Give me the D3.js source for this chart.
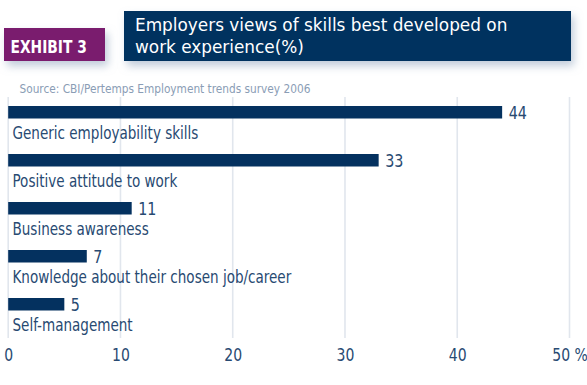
<!DOCTYPE html>
<html>
<head>
<meta charset="utf-8">
<script src="https://cdn.jsdelivr.net/npm/d3@7/dist/d3.min.js"></script>
<style>
  html, body { margin: 0; padding: 0; background: #ffffff; }
  svg { display: block; }
  text { font-family: "DejaVu Sans Condensed", "DejaVu Sans", sans-serif; }
</style>
</head>
<body>
<div id="chart"></div>
<script>
// Survey data: share of employers naming each skill (%)
const categories = [
  "Generic employability skills",
  "Positive attitude to work",
  "Business awareness",
  "Knowledge about their chosen job/career",
  "Self-management"
];
const values = [44, 33, 11, 7, 5];
const tickValues = [0, 10, 20, 30, 40, 50];
const tickLabels = ["0", "10", "20", "30", "40", "50 %"];

const exhibitLabel = "EXHIBIT 3";
const titleLines = ["Employers views of skills best developed on", "work experience(%)"];
const sourceText = "Source: CBI/Pertemps Employment trends survey 2006";

const W = 587, H = 385;
const navy = "#04315f";
const purple = "#7a1f6e";
const textBlue = "#284a72";
const gridColor = "#e1e6ed";

// place a text at (x, y) and squeeze it horizontally to a narrow face
function placeNarrow(sel, xf, yf, sx) {
  sel.attr("x", 0).attr("y", 0)
    .attr("transform", (d, i) => `translate(${xf(d, i)},${yf(d, i)}) scale(${sx},1)`);
}

const svg = d3.select("#chart").append("svg")
  .attr("width", W).attr("height", H);

// soft shadow under the header boxes
const defs = svg.append("defs");
const f = defs.append("filter").attr("id", "shadow")
  .attr("x", "-10%").attr("y", "-30%").attr("width", "130%").attr("height", "180%");
f.append("feDropShadow").attr("dx", 3).attr("dy", 5).attr("stdDeviation", 4)
  .attr("flood-color", "#8fa3bd").attr("flood-opacity", 0.55);

// header: exhibit tag
svg.append("rect").attr("x", 4).attr("y", 28).attr("width", 101).attr("height", 33)
  .attr("fill", purple).attr("filter", "url(#shadow)");
svg.append("text").datum(exhibitLabel)
  .attr("fill", "#ffffff").attr("font-size", 18.3).attr("font-weight", "bold")
  .text(d => d)
  .call(placeNarrow, () => 10.5, () => 52.5, 0.84);

// header: title box with two-line title
svg.append("rect").attr("x", 124).attr("y", 11).attr("width", 447).attr("height", 50)
  .attr("fill", navy).attr("filter", "url(#shadow)");
svg.append("g").selectAll("text").data(titleLines).join("text")
  .attr("fill", "#ffffff").attr("font-size", 18.5)
  .text(d => d)
  .call(placeNarrow, () => 135, (d, i) => 31.4 + i * 21.4, 1.015);

// source line
svg.append("text").datum(sourceText)
  .attr("fill", "#8a9db5").attr("font-size", 13)
  .text(d => d)
  .call(placeNarrow, () => 19.5, () => 92.6, 0.905);

// scales
const x = d3.scaleLinear().domain([0, 50]).range([8.2, 569.5]);
const y = d3.scalePoint().domain(categories).range([106, 298]);
const barH = 12.5;

// vertical grid lines
svg.append("g").selectAll("line").data(tickValues).join("line")
  .attr("x1", d => x(d)).attr("x2", d => x(d))
  .attr("y1", 97).attr("y2", 338)
  .attr("stroke", gridColor).attr("stroke-width", 1.6);

// bars
const rows = categories.map((c, i) => ({ cat: c, val: values[i] }));
svg.append("g").selectAll("rect").data(rows).join("rect")
  .attr("x", x(0)).attr("y", d => y(d.cat))
  .attr("width", d => x(d.val) - x(0)).attr("height", barH)
  .attr("fill", navy);

// value labels at bar ends
svg.append("g").selectAll("text").data(rows).join("text")
  .attr("fill", textBlue).attr("font-size", 17.3)
  .text(d => d.val)
  .call(placeNarrow, d => x(d.val) + 6.5, d => y(d.cat) + barH, 0.92);

// category labels beneath bars
svg.append("g").selectAll("text").data(rows).join("text")
  .attr("fill", textBlue).attr("font-size", 17.3)
  .text(d => d.cat)
  .call(placeNarrow, () => 12.5, d => y(d.cat) + 33.3, 0.87);

// bottom axis labels
const axis = d3.axisBottom(x).tickValues(tickValues)
  .tickFormat((d, i) => tickLabels[i]).tickSize(0).tickPadding(0);
const gx = svg.append("g").attr("transform", "translate(0,361)").call(axis);
gx.select(".domain").remove();
gx.selectAll("text")
  .attr("fill", textBlue).attr("font-size", 17.3)
  .attr("dy", 0).attr("y", 0)
  .attr("transform", "scale(0.9,1)")
  .style("font-family", "\"DejaVu Sans Condensed\", \"DejaVu Sans\", sans-serif");
</script>
</body>
</html>
